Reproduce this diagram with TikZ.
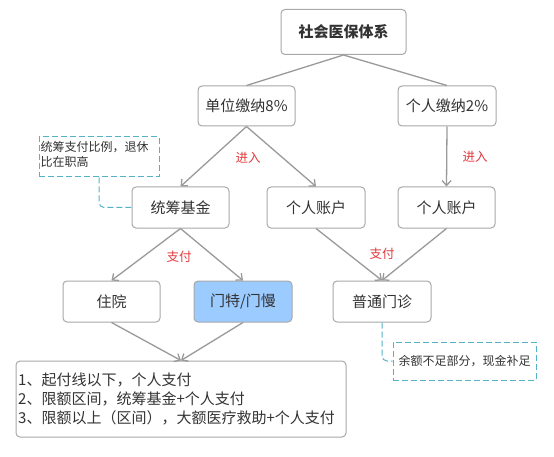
\documentclass[tikz,border=0pt]{standalone}
\usepackage{fontspec}
\setmainfont{Noto Sans CJK SC}
\usetikzlibrary{arrows.meta}
\definecolor{boxline}{HTML}{A8A8A8}
\definecolor{conline}{HTML}{9A9A9A}
\definecolor{txt}{HTML}{333333}
\definecolor{lblred}{HTML}{E23A3F}
\definecolor{teal}{HTML}{55B3C8}
\definecolor{bluefill}{HTML}{9CCBFF}
\tikzset{
  box/.style={draw=boxline, line width=1pt, rounded corners=4pt, fill=white, text=txt,
    font=\fontsize{15}{18}\selectfont, inner sep=0pt, align=center},
  notebox/.style={draw=teal, line width=1pt, dash pattern=on 6pt off 3pt, fill=white, text=txt,
    font=\fontsize{12}{15}\selectfont, inner sep=0pt},
  con/.style={draw=conline, line width=1.3pt},
  arr/.style={con, -{Straight Barb[length=5pt,width=9pt,line width=1.3pt]}},
  dashcon/.style={draw=teal, line width=1pt, dash pattern=on 6pt off 3pt, rounded corners=5pt},
  lbl/.style={text=lblred, font=\fontsize{12.5}{15}\selectfont, inner sep=0pt}
}
\begin{document}
\begin{tikzpicture}[x=1pt,y=-1pt]
\useasboundingbox (0,0) rectangle (554,457);
\fill[white] (0,0) rectangle (554,457);

\node[box, minimum width=125pt, minimum height=45pt, font=\fontsize{15}{18}\selectfont\bfseries] (top) at (343.5,32) {社会医保体系};
\node[box, minimum width=97pt, minimum height=40pt] (b1) at (246.5,106) {单位缴纳8\%};
\node[box, minimum width=98pt, minimum height=40pt] (b2) at (447,106) {个人缴纳2\%};
\node[box, minimum width=97pt, minimum height=41pt] (tc) at (180.5,207.5) {统筹基金};
\node[box, minimum width=98pt, minimum height=41pt] (pa1) at (316,207.5) {个人账户};
\node[box, minimum width=97pt, minimum height=41pt] (pa2) at (446.5,207.5) {个人账户};
\node[box, minimum width=97pt, minimum height=41pt] (zy) at (111.5,301.5) {住院};
\node[box, minimum width=98pt, minimum height=41pt, fill=bluefill] (mt) at (243,301.5) {门特/门慢};
\node[box, minimum width=98pt, minimum height=41pt] (pt) at (382,301.5) {普通门诊};

\node[box, minimum width=330pt, minimum height=76pt] (bot) at (181,399) {};
\node[text=txt, font=\fontsize{15}{19}\selectfont, align=left, anchor=west, inner sep=0pt] (bottxt) at (18,399)
  {1、起付线以下，个人支付\\2、限额区间，统筹基金+个人支付\\3、限额以上（区间），大额医疗救助+个人支付};

\node[notebox, minimum width=120pt, minimum height=40pt] (n1) at (99,157) {};
\node[text=txt, font=\fontsize{12}{15}\selectfont, align=left, anchor=north west, inner sep=0pt] (n1txt) at (40.5,141)
  {统筹支付比例，退休\\比在职高};
\node[notebox, minimum width=143pt, minimum height=38pt] (n2) at (464.5,361) {余额不足部分，现金补足};

\draw[con] (top.south) -- (b1.north);
\draw[con] (top.south) -- (b2.north);
\draw[arr] (b1.south) -- (tc.north);
\draw[arr] (b1.south) -- (pa1.north);
\draw[arr] (b2.south) -- (pa2.north);
\draw[arr] (tc.south) -- (zy.north);
\draw[arr] (tc.south) -- (mt.north);
\draw[arr] (pa1.south) -- (pt.north);
\draw[arr] (pa2.south) -- (pt.north);
\draw[arr] (zy.south) -- (bot.north);
\draw[arr] (mt.south) -- (bot.north);

\draw[dashcon] (n1.south) |- (tc.west);
\draw[dashcon] (pt.south) |- (n2.west);

\node[lbl] (l1) at (248,158) {进入};
\node[lbl] (l2) at (475,157) {进入};
\node[lbl] (l3) at (179,257) {支付};
\node[lbl] (l4) at (382,254) {支付};
\end{tikzpicture}
\end{document}
